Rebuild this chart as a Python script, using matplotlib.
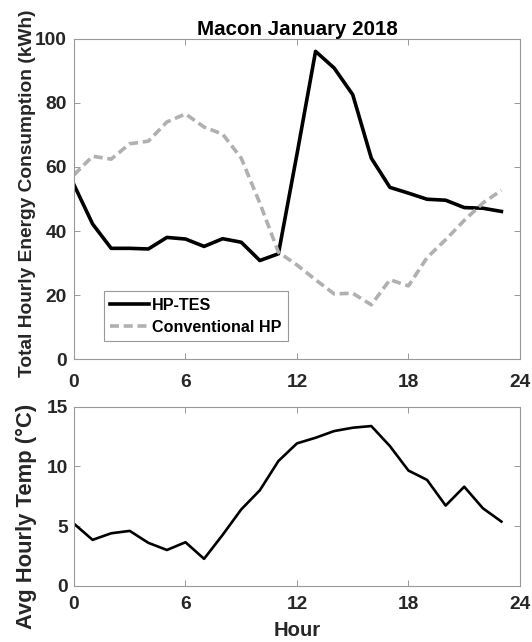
import numpy as np
import matplotlib
matplotlib.use("Agg")
from matplotlib import pyplot as plt

hours = list(range(24))

# hourly energy use, kWh
hp_tes = [54.4, 42.2, 34.6, 34.6, 34.4, 38.0, 37.5, 35.2, 37.6, 36.5, 30.8, 32.9,
          64.0, 96.0, 90.8, 82.5, 62.7, 53.6, 51.8, 49.9, 49.6, 47.3, 47.1, 46.1]
conv_hp = [57.5, 63.3, 62.4, 67.2, 68.0, 74.0, 76.5, 72.4, 70.2, 62.7, 48.7, 33.4,
           29.4, 24.8, 20.4, 20.6, 17.0, 24.8, 22.9, 31.7, 37.3, 43.3, 48.7, 52.7]
# hourly mean outdoor temperature, degC
temp = [5.2, 3.85, 4.4, 4.6, 3.6, 3.0, 3.65, 2.26, 4.27, 6.4, 8.0, 10.45,
        11.93, 12.4, 12.96, 13.24, 13.38, 11.7, 9.65, 8.87, 6.72, 8.3, 6.5, 5.38]

plt.rcParams['font.family'] = ['Liberation Sans', 'DejaVu Sans']
plt.rcParams['font.weight'] = 'bold'
plt.rcParams['font.size'] = 14

TXT = '#262626'

fig = plt.figure(figsize=(5.32, 6.42), dpi=100)
ax1 = fig.add_axes([0.1391, 0.4403, 0.8383, 0.4997])
ax2 = fig.add_axes([0.1391, 0.0875, 0.8383, 0.279])

# top panel: energy
ax1.plot(hours, hp_tes, color='black', lw=2.6, label='HP-TES')
ax1.plot(hours, conv_hp, color='#b0b0b0', lw=2.6, dashes=(2.5, 1.3), label='Conventional HP')
ax1.set_ylim(0, 100)
ax1.set_yticks([0, 20, 40, 60, 80, 100])
ax1.set_ylabel('Total Hourly Energy Consumption (kWh)', fontweight='bold',
               fontsize=13.8, color=TXT)
ax1.yaxis.set_label_coords(-0.085, 0.519)
ax1.set_title('Macon January 2018', fontweight='bold', fontsize=14.8, pad=2.3, color='black')
leg = ax1.legend(loc='lower left', bbox_to_anchor=(0.067, 0.057), borderaxespad=0,
                 fontsize=11.6, handlelength=2.4, handletextpad=0.2, borderpad=0.4,
                 labelspacing=0.42, fancybox=False, framealpha=1)
leg.get_frame().set_edgecolor('#999999')
leg.get_frame().set_linewidth(0.8)
for t in leg.get_texts():
    t.set_fontweight('bold')

# bottom panel: temperature
ax2.plot(hours, temp, color='black', lw=1.9)
ax2.set_ylim(0, 15)
ax2.set_yticks([0, 5, 10, 15])
ax2.set_ylabel('Avg Hourly Temp (\u00b0C)', fontweight='bold', fontsize=15.8, color=TXT)
ax2.yaxis.set_label_coords(-0.082, 0.388)
ax2.set_xlabel('Hour', fontweight='bold', fontsize=14.6, labelpad=6, color=TXT)

for ax, xpad, ypad in ((ax1, 10.8, 5.0), (ax2, 7.2, 4.2)):
    ax.set_xlim(0, 24)
    ax.set_xticks([0, 6, 12, 18, 24])
    ax.tick_params(direction='in', top=True, right=True, length=4,
                   width=0.6, color='#888888', labelsize=13.8)
    ax.tick_params(axis='x', pad=xpad)
    ax.tick_params(axis='y', pad=ypad)
    for s in ax.spines.values():
        s.set_edgecolor('#999999')
        s.set_linewidth(0.8)
    for lab in ax.get_xticklabels() + ax.get_yticklabels():
        lab.set_fontweight('bold')
        lab.set_color(TXT)

fig.savefig('out.png', dpi=100)
